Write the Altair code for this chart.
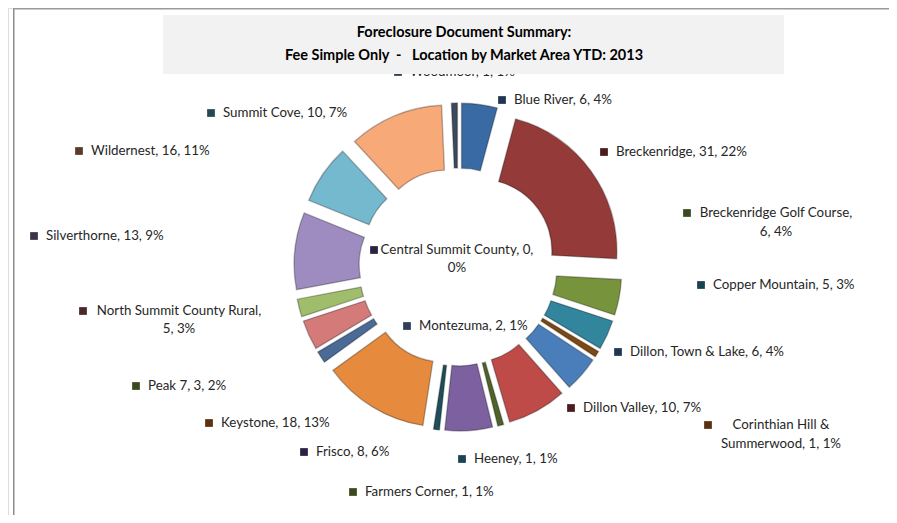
import math
import altair as alt
import pandas as pd

# ---------------- data ----------------
names = ["Blue River", "Breckenridge", "Breckenridge Golf Course", "Central Summit County",
         "Copper Mountain", "Corinthian Hill & Summerwood", "Dillon, Town & Lake", "Dillon Valley",
         "Farmers Corner", "Frisco", "Heeney", "Keystone", "Montezuma",
         "North Summit County Rural", "Peak 7", "Silverthorne", "Summit Cove", "Wildernest", "Woodmoor"]
counts = [6, 31, 6, 0, 5, 1, 6, 10, 1, 8, 1, 18, 2, 5, 3, 13, 10, 16, 1]

title_lines = ["Foreclosure Document Summary:",
               "Fee Simple Only\u00a0 -\u00a0\u00a0 Location by Market Area YTD: 2013"]

# ---------------- styles ----------------
slice_colors = ["#3a6aa3", "#943a38", "#77933c", "#2b2240", "#31859c", "#7f4a12", "#4a7ebb",
                "#be4b48", "#4f6228", "#7d60a0", "#1f4e5a", "#e68a3e", "#4a6b96",
                "#d47b7a", "#a0bd6c", "#9e8cc0", "#74b9ce", "#f7a978", "#3c4a5e"]
marker_colors = ["#1f3550", "#4a1c1c", "#3b4a1e", "#2b2240", "#1a4250", "#5a3210", "#1f3556",
                 "#4a1c1c", "#3b4a1e", "#2b2240", "#1a4250", "#5a3210", "#2f3f55",
                 "#4a2828", "#3b4a1e", "#3a3548", "#254952", "#5a3a28", "#2f3f55"]

# label layout (page pixels): marker centre, optional wrap (words on line 1, centre x, y of line 2)
PCX, PCY = 458, 267          # pie centre on the page
label_marker = {
    "Blue River": (502, 100), "Breckenridge": (604, 152), "Breckenridge Golf Course": (687, 213),
    "Central Summit County": (374, 250), "Copper Mountain": (701, 285),
    "Corinthian Hill & Summerwood": (708, 425), "Dillon, Town & Lake": (618, 352),
    "Dillon Valley": (571, 408), "Farmers Corner": (353, 492), "Frisco": (304, 452),
    "Heeney": (462, 459), "Keystone": (209, 423), "Montezuma": (407, 326),
    "North Summit County Rural": (83, 311), "Peak 7": (136, 386), "Silverthorne": (34, 236),
    "Summit Cove": (211, 113), "Wildernest": (79, 151), "Woodmoor": (398, 72),
}
label_wrap = {
    "Breckenridge Golf Course": (3, 776, 232),
    "Central Summit County": (4, 457, 268),
    "Corinthian Hill & Summerwood": (3, 781, 444),
    "North Summit County Rural": (4, 179, 329),
}

W, H = 881, 507
OFF = 8
E = 27          # explosion
R_OUT, R_IN = 137, 72
FONT = "Lato"
FS = 13.3

total = sum(counts)
df = pd.DataFrame({"name": names, "count": counts, "color": slice_colors, "order": range(len(names))})

# label lines
rows = []
for n, c, mc in zip(names, counts, marker_colors):
    pct = round(c / total * 100)
    full = f"{n}, {c}, {pct}%"
    mx, my = label_marker[n]
    if n in label_wrap:
        k, cx, y2 = label_wrap[n]
        words = full.split(" ")
        l1, l2 = " ".join(words[:k]), " ".join(words[k:])
        rows.append(dict(name=n, txt=l1, tx=cx - PCX, ty=my - PCY, al="c"))
        rows.append(dict(name=n, txt=l2, tx=cx - PCX, ty=y2 - PCY, al="c"))
    else:
        rows.append(dict(name=n, txt=full, tx=mx + 12 - PCX, ty=my - PCY, al="l"))
lab = pd.DataFrame(rows)
mk = pd.DataFrame({"name": names, "mcol": marker_colors,
                   "mx": [label_marker[n][0] - PCX for n in names],
                   "my": [label_marker[n][1] - PCY for n in names]})

cx_chart, cy_chart = PCX - OFF, PCY - OFF
xs = alt.Scale(domain=[-cx_chart, W - cx_chart], range=[0, W], nice=False, zero=False)
ys = alt.Scale(domain=[-cy_chart, H - cy_chart], range=[0, H], nice=False, zero=False)

arcs = (
    alt.Chart(df)
    .transform_filter("datum.count > 0")
    .transform_window(cum="sum(count)", sort=[alt.SortField("order")], frame=[None, 0])
    .transform_calculate(t0="datum.cum - datum.count")
    .transform_calculate(mid=f"(datum.cum - datum.count/2) / {total} * 2 * PI")
    .transform_calculate(ox=f"{E} * sin(datum.mid)", oy=f"-{E} * cos(datum.mid)")
    .mark_arc(innerRadius=R_IN, outerRadius=R_OUT, stroke="#000000", strokeOpacity=0.28,
              strokeWidth=1.4)
    .encode(
        theta=alt.Theta("t0:Q", scale=alt.Scale(domain=[0, total], range=[0, 2 * math.pi]), stack=None),
        theta2="cum:Q",
        x=alt.X("ox:Q", scale=xs, axis=None, stack=None),
        y=alt.Y("oy:Q", scale=ys, axis=None, stack=None),
        color=alt.Color("name:N", scale=alt.Scale(domain=names, range=slice_colors), legend=None),
    )
)

markers = (
    alt.Chart(mk).mark_square(size=60, opacity=1)
    .encode(x=alt.X("mx:Q", scale=xs, axis=None), y=alt.Y("my:Q", scale=ys, axis=None),
            fill=alt.Fill("mcol:N", scale=None))
)

txt_left = (
    alt.Chart(lab).transform_filter("datum.al == 'l'")
    .mark_text(align="left", baseline="middle", font=FONT, fontSize=FS, color="#262626")
    .encode(x=alt.X("tx:Q", scale=xs, axis=None), y=alt.Y("ty:Q", scale=ys, axis=None), text="txt:N")
)
txt_center = (
    alt.Chart(lab).transform_filter("datum.al == 'c'")
    .mark_text(align="center", baseline="middle", font=FONT, fontSize=FS, color="#262626")
    .encode(x=alt.X("tx:Q", scale=xs, axis=None), y=alt.Y("ty:Q", scale=ys, axis=None), text="txt:N")
)

one = pd.DataFrame({"a": [0]})
title_box = alt.Chart(one).mark_rect(fill="#f2f2f2").encode(
    x=alt.value(163 - OFF), x2=alt.value(784 - OFF), y=alt.value(15 - OFF), y2=alt.value(74 - OFF))
title_df = pd.DataFrame({"t": title_lines, "ty": [33 - PCY, 56 - PCY], "tx": [464 - PCX, 464 - PCX]})
title_txt = alt.Chart(title_df).mark_text(
    align="center", baseline="middle", font=FONT, fontSize=14.5, fontWeight="bold", color="#000000"
).encode(x=alt.X("tx:Q", scale=xs, axis=None), y=alt.Y("ty:Q", scale=ys, axis=None), text="t:N")

border_l = alt.Chart(one).mark_rect(fill="#8c8c8c").encode(
    x=alt.value(13 - OFF), x2=alt.value(14.5 - OFF), y=alt.value(0), y2=alt.value(H))
border_t = alt.Chart(one).mark_rect(fill="#9a9a9a").encode(
    x=alt.value(13 - OFF), x2=alt.value(W), y=alt.value(0), y2=alt.value(1.5))

chart = (
    alt.layer(border_l, arcs, markers, txt_left, txt_center, title_box, title_txt, border_t)
    .properties(width=W, height=H, autosize=alt.AutoSizeParams(type="none"), padding=0)
    .configure_view(strokeWidth=0, strokeOpacity=0)
    .configure(background="white")
)

chart.save("out.html", embed_options={"renderer": "svg", "actions": False})
